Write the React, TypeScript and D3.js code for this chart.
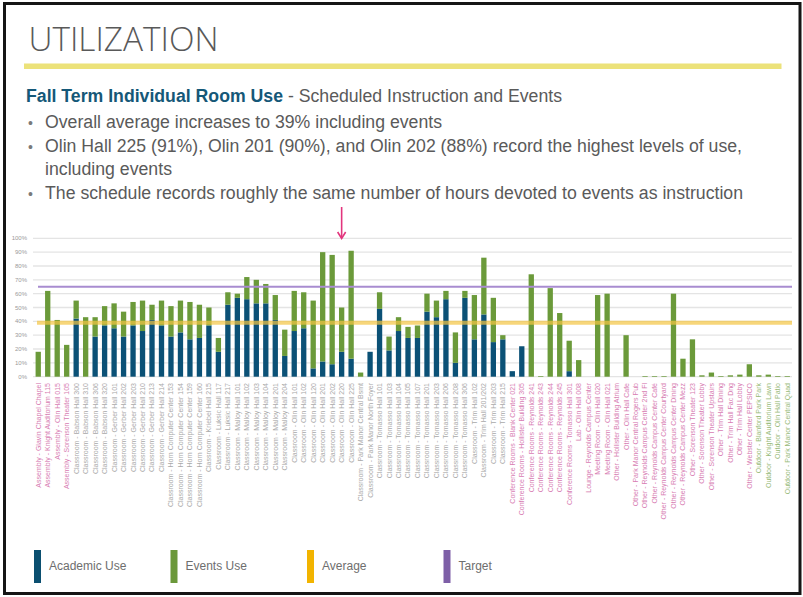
import * as d3 from 'd3'

const ROOMS = [
  'Assembly - Glavin Chapel Chapel',
  'Assembly - Knight Auditorium 115',
  'Assembly - Olin Hall 015',
  'Assembly - Sorenson Theater 105',
  'Classroom - Babson Hall 300',
  'Classroom - Babson Hall 310',
  'Classroom - Babson Hall 306',
  'Classroom - Babson Hall 320',
  'Classroom - Gerber Hall 101',
  'Classroom - Gerber Hall 202',
  'Classroom - Gerber Hall 203',
  'Classroom - Gerber Hall 210',
  'Classroom - Gerber Hall 213',
  'Classroom - Gerber Hall 214',
  'Classroom - Horn Computer Center 153',
  'Classroom - Horn Computer Center 154',
  'Classroom - Horn Computer Center 159',
  'Classroom - Horn Computer Center 160',
  'Classroom - Kriebel Hall 215',
  'Classroom - Luksic Hall 117',
  'Classroom - Luksic Hall 217',
  'Classroom - Malloy Hall 101',
  'Classroom - Malloy Hall 102',
  'Classroom - Malloy Hall 103',
  'Classroom - Malloy Hall 104',
  'Classroom - Malloy Hall 201',
  'Classroom - Malloy Hall 204',
  'Classroom - Olin Hall 101',
  'Classroom - Olin Hall 102',
  'Classroom - Olin Hall 120',
  'Classroom - Olin Hall 201',
  'Classroom - Olin Hall 202',
  'Classroom - Olin Hall 220',
  'Classroom - Olin Hall 225',
  'Classroom - Park Manor Central Bsmt',
  'Classroom - Park Manor North Foyer',
  'Classroom - Tomasso Hall 101',
  'Classroom - Tomasso Hall 103',
  'Classroom - Tomasso Hall 104',
  'Classroom - Tomasso Hall 105',
  'Classroom - Tomasso Hall 107',
  'Classroom - Tomasso Hall 201',
  'Classroom - Tomasso Hall 203',
  'Classroom - Tomasso Hall 206',
  'Classroom - Tomasso Hall 208',
  'Classroom - Tomasso Hall 306',
  'Classroom - Trim Hall 102',
  'Classroom - Trim Hall 201/202',
  'Classroom - Trim Hall 203',
  'Classroom - Trim Hall 215',
  'Conference Rooms - Blank Center 021',
  'Conference Rooms - Hollister Building 305',
  'Conference Rooms - Reynolds 241',
  'Conference Rooms - Reynolds 243',
  'Conference Rooms - Reynolds 244',
  'Conference Rooms - Reynolds 245',
  'Conference Rooms - Tomasso Hall 301',
  'Lab - Olin Hall 008',
  'Lounge - Reynolds Campus Center',
  'Meeting Room - Olin Hall 020',
  'Meeting Room - Olin Hall 021',
  'Other - Hollister Building Atrium',
  'Other - Olin Hall Cafe',
  'Other - Park Manor Central Rogers Pub',
  'Other - Reynolds Campus Center 2nd Fl',
  'Other - Reynolds Campus Center Café',
  'Other - Reynolds Campus Center Courtyard',
  'Other - Reynolds Campus Center Dining',
  'Other - Reynolds Campus Center Mezz',
  'Other - Sorenson Theater 123',
  'Other - Sorenson Theater Lobby',
  'Other - Sorenson Theater Upstairs',
  'Other - Trim Hall Dining',
  'Other - Trim Hall Fac Dng',
  'Other - Trim Hall Lobby',
  'Other - Webster Center PEPSICO',
  'Outdoor - Blanford Park Park',
  'Outdoor - Knight Auditorium Lawn',
  'Outdoor - Olin Hall Patio',
  'Outdoor - Park Manor Central Quad',
]

// percent of available hours
const ACADEMIC = [
  0, 0, 0, 0, 42, 0, 29, 37, 35, 29,
  37, 33, 41, 37, 29, 32, 27, 28, 37, 18,
  52, 57, 56, 53, 53, 41, 15, 33, 35, 6,
  11, 9, 18, 13, 0, 18, 49, 19, 33, 28,
  28, 47, 43, 56, 10, 57, 27, 45, 25, 27,
  4, 22, 0, 0, 0, 0, 4, 0, 0, 0,
  0, 0, 0, 0, 0, 0, 0, 0, 0, 0,
  0, 0, 0, 0, 0, 0, 0, 0, 0, 0,
]

const EVENTS = [
  18, 62, 41, 23, 13, 43, 14, 14, 18, 18,
  17, 22, 11, 18, 22, 23, 27, 24, 13, 10,
  9, 3, 16, 17, 14, 18, 19, 29, 26, 49,
  79, 79, 32, 78, 3, 0, 12, 10, 10, 8,
  9, 13, 12, 6, 22, 5, 32, 41, 32, 3,
  0, 0, 74, 0.5, 64, 46, 22, 12, 0, 59,
  60, 0, 30, 0, 0.5, 0.5, 0.5, 60, 13, 27,
  1, 3, 0.5, 1, 1.5, 9, 1, 1.5, 0.5, 0.5,
]

const AVERAGE = 39
const TARGET = 65
const Y_TICKS = [0, 10, 20, 30, 40, 50, 60, 70, 80, 90, 100]
const ARROW_ROOM = 'Classroom - Olin Hall 220'

const LEGEND = [
  { label: 'Academic Use', color: '#0b4f70' },
  { label: 'Events Use', color: '#6b983a' },
  { label: 'Average', color: '#f2b400' },
  { label: 'Target', color: '#7e5fa7' },
]

const BULLETS = [
  { text: 'Overall average increases to 39% including events', y: 127.5, width: 397, dot: true },
  { text: 'Olin Hall 225 (91%), Olin 201 (90%), and Olin 202 (88%) record the highest levels of use,', y: 151.5, width: 697, dot: true },
  { text: 'including events', y: 175, width: 127, dot: false },
  { text: 'The schedule records roughly the same number of hours devoted to events as instruction', y: 198.5, width: 698, dot: true },
]

const W = 803
const H = 597
const PLOT = { left: 33.5, right: 792, top: 238.3, bottom: 376.7 }

const FONT = '"Liberation Sans", Arial, sans-serif'

const labelColor = (name: string) => {
  if (name.startsWith('Classroom')) return '#a9a9a9'
  if (name.startsWith('Outdoor')) return '#97ba78'
  return '#d77cb2'
}

export default function App() {
  const x = d3.scaleBand<string>()
    .domain(ROOMS)
    .range([PLOT.left, PLOT.right])
    .paddingInner(0.44)
    .paddingOuter(0.22)

  const y = d3.scaleLinear()
    .domain([0, 100])
    .range([PLOT.bottom, PLOT.top])

  const rows = ROOMS.map((room, i) => ({ room, academic: ACADEMIC[i], events: EVENTS[i] }))
  const stacked = d3.stack<{ room: string; academic: number; events: number }>()
    .keys(['academic', 'events'])(rows as any)
  const stackColors = ['#0b5176', '#6b9a3a']

  const arrowX = (x(ARROW_ROOM) ?? 0) + x.bandwidth() / 2

  return (
    <div style={{ position: 'absolute', left: 0, top: 0 }}>
      <svg width={W} height={H} viewBox={`0 0 ${W} ${H}`} style={{ display: 'block', background: '#fff' }}>
        <rect x={0} y={0} width={W} height={H} fill="#fff" />

        {/* title */}
        <text
          x={28.5}
          y={51}
          fontFamily='"Open Sans", Lato, sans-serif'
          fontWeight={300}
          fontSize={33}
          fill="#595959"
          textLength={190}
          lengthAdjust="spacingAndGlyphs"
        >
          UTILIZATION
        </text>
        <rect x={24} y={63.5} width={757.5} height={5.5} fill="#ece27a" />

        {/* subtitle + bullets */}
        <text x={26} y={101.5} fontFamily={FONT} fontSize={18} fill="#5a5a5a" textLength={536} lengthAdjust="spacingAndGlyphs">
          <tspan fontWeight={700} fill="#155878">Fall Term Individual Room Use</tspan>
          <tspan> - Scheduled Instruction and Events</tspan>
        </text>
        {BULLETS.map(b => (
          <g key={b.text}>
            {b.dot && (
              <text x={30.5} y={b.y} fontFamily={FONT} fontSize={14} fill="#7a7a7a" textAnchor="middle">•</text>
            )}
            <text
              x={45}
              y={b.y}
              fontFamily={FONT}
              fontSize={18}
              fill="#5a5a5a"
              textLength={b.width}
              lengthAdjust="spacingAndGlyphs"
            >
              {b.text}
            </text>
          </g>
        ))}

        {/* grid */}
        {Y_TICKS.map(t => (
          <g key={t}>
            <line x1={33} x2={792} y1={y(t)} y2={y(t)} stroke="#e4e4e4" strokeWidth={1.3} />
            <text x={27} y={y(t)} dy="0.35em" textAnchor="end" fontFamily={FONT} fontSize={6} fill="#9a9a9a">
              {t}%
            </text>
          </g>
        ))}

        {/* bars */}
        {stacked.map((series, si) => (
          <g key={series.key} fill={stackColors[si]}>
            {series.map(d => {
              const h = y(d[0]) - y(d[1])
              if (h <= 0) return null
              return (
                <rect
                  key={d.data.room}
                  x={x(d.data.room)}
                  y={y(d[1])}
                  width={x.bandwidth()}
                  height={h}
                />
              )
            })}
          </g>
        ))}

        {/* reference lines */}
        <line x1={37} x2={792} y1={y(AVERAGE)} y2={y(AVERAGE)} stroke="#f4c441" strokeOpacity={0.7} strokeWidth={4} />
        <line x1={38} x2={792} y1={y(TARGET)} y2={y(TARGET)} stroke="#a88cd0" strokeWidth={2} />

        {/* room labels */}
        {ROOMS.map(room => {
          const cx = (x(room) ?? 0) + x.bandwidth() / 2
          return (
            <text
              key={room}
              transform={`translate(${cx},383) rotate(-90)`}
              dy="0.35em"
              textAnchor="end"
              fontFamily={FONT}
              fontSize={7}
              fill={labelColor(room)}
            >
              {room}
            </text>
          )
        })}

        {/* arrow */}
        <line x1={arrowX} x2={arrowX} y1={207} y2={238} stroke="#e2357d" strokeWidth={1.6} />
        <path
          d={`M${arrowX - 4},${232} L${arrowX},${238.5} L${arrowX + 4},${232}`}
          fill="none"
          stroke="#e2357d"
          strokeWidth={1.6}
        />

        {/* legend */}
        {LEGEND.map((l, i) => {
          const lx = [34, 170.5, 307, 443.5][i]
          return (
            <g key={l.label}>
              <rect x={lx} y={550} width={7} height={33} fill={l.color} />
              <text x={lx + 15} y={569.5} fontFamily={FONT} fontSize={12} fill="#6e6e6e">
                {l.label}
              </text>
            </g>
          )
        })}

        {/* slide frame */}
        <rect x={4.5} y={3.5} width={795.5} height={590} fill="none" stroke="#151515" strokeWidth={3} />
      </svg>
    </div>
  )
}
